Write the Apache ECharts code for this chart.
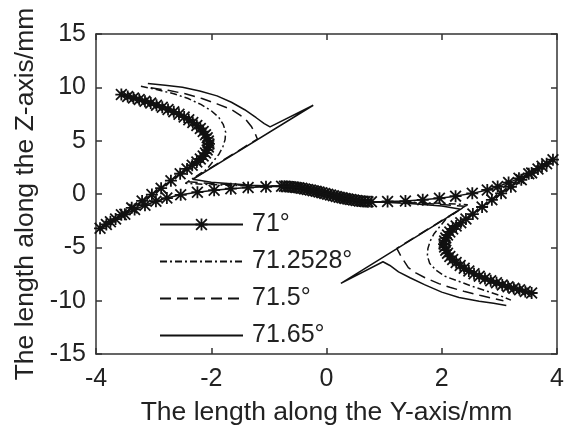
<!DOCTYPE html>
<html>
<head>
<meta charset="utf-8">
<script src="https://cdn.jsdelivr.net/npm/echarts@6/dist/echarts.min.js"></script>
<style>
  html, body { margin: 0; padding: 0; background: #fff; }
  #chart { width: 566px; height: 437px; }
</style>
</head>
<body>
<div id="chart"></div>
<script>
// curve names (legend)
var names = ['71°', '71.2528°', '71.5°', '71.65°'];

// 71° curve, [Y, Z] in mm, in drawing order
var curve71 = [
  [-3.56, 9.32], [-3.45, 9.15], [-3.35, 9.0], [-3.25, 8.85], [-3.15, 8.7], [-3.05, 8.52],
  [-2.95, 8.33], [-2.85, 8.14], [-2.75, 7.93], [-2.65, 7.7], [-2.56, 7.47], [-2.47, 7.22],
  [-2.39, 6.96], [-2.32, 6.7], [-2.25, 6.42], [-2.19, 6.14], [-2.14, 5.85], [-2.1, 5.56],
  [-2.07, 5.27], [-2.05, 4.98], [-2.04, 4.69], [-2.05, 4.4], [-2.07, 4.12], [-2.1, 3.84],
  [-2.14, 3.56], [-2.19, 3.28], [-2.25, 3.0], [-2.33, 2.7], [-2.42, 2.35], [-2.54, 1.9],
  [-2.7, 1.25], [-2.87, 0.55], [-3.03, -0.05], [-3.2, -0.65], [-3.38, -1.3], [-3.56, -1.95],
  [-3.75, -2.6], [-3.93, -3.22],
  [-3.82, -2.85], [-3.66, -2.35], [-3.5, -1.9], [-3.33, -1.45], [-3.15, -1.05], [-2.96, -0.68],
  [-2.77, -0.38], [-2.53, -0.08], [-2.24, 0.17], [-1.95, 0.36], [-1.66, 0.5], [-1.36, 0.6],
  [-1.05, 0.68], [-0.78, 0.72],
  [-0.73, 0.72], [-0.68, 0.71], [-0.63, 0.69], [-0.58, 0.66], [-0.53, 0.62], [-0.48, 0.58],
  [-0.43, 0.53], [-0.38, 0.48], [-0.33, 0.43], [-0.28, 0.37], [-0.23, 0.31], [-0.18, 0.25],
  [-0.13, 0.18], [-0.08, 0.11], [-0.03, 0.04], [0.02, -0.03], [0.07, -0.1], [0.12, -0.17],
  [0.17, -0.24], [0.22, -0.3], [0.27, -0.36], [0.32, -0.42], [0.37, -0.47], [0.42, -0.52],
  [0.47, -0.57], [0.52, -0.61], [0.57, -0.65], [0.62, -0.68], [0.67, -0.7], [0.72, -0.72],
  [0.78, -0.73], [1.06, -0.7], [1.37, -0.66], [1.67, -0.55], [1.96, -0.4], [2.24, -0.2],
  [2.53, 0.06], [2.79, 0.38], [2.97, 0.7], [3.16, 1.07], [3.34, 1.47], [3.51, 1.9],
  [3.67, 2.35], [3.82, 2.83], [3.93, 3.22],
  [3.74, 2.6], [3.56, 1.98], [3.38, 1.33], [3.2, 0.68], [3.03, 0.06], [2.87, -0.55],
  [2.7, -1.22], [2.54, -1.88], [2.42, -2.35], [2.33, -2.7], [2.25, -3.0], [2.19, -3.28],
  [2.14, -3.56], [2.1, -3.84], [2.07, -4.12], [2.05, -4.4], [2.04, -4.69], [2.05, -4.98],
  [2.07, -5.27], [2.1, -5.56], [2.14, -5.85], [2.19, -6.14], [2.25, -6.42], [2.32, -6.7],
  [2.39, -6.96], [2.47, -7.22], [2.56, -7.47], [2.65, -7.7], [2.75, -7.93], [2.85, -8.14],
  [2.95, -8.33], [3.05, -8.52], [3.15, -8.7], [3.25, -8.84], [3.35, -8.98], [3.45, -9.13],
  [3.56, -9.28]
];

// 71.2528° curve
var curve712528 = [
  [-3.22, 10.1], [-2.95, 9.8], [-2.65, 9.4], [-2.4, 8.95], [-2.18, 8.4], [-2.0, 7.8],
  [-1.87, 7.2], [-1.79, 6.5], [-1.75, 5.8], [-1.76, 5.1], [-1.8, 4.4], [-1.87, 3.7],
  [-1.96, 3.1], [-2.08, 2.3], [-2.45, 1.0], [-2.0, 0.88], [-1.5, 0.78], [-1.0, 0.72],
  [-0.73, 0.72], [-0.5, 0.6], [-0.25, 0.34], [0, 0], [0.25, -0.34], [0.5, -0.6],
  [0.73, -0.72], [1.0, -0.72], [1.5, -0.78], [2.0, -0.88], [2.45, -1.0], [2.08, -2.3],
  [1.96, -3.1], [1.87, -3.7], [1.8, -4.4], [1.76, -5.1], [1.75, -5.8], [1.79, -6.5],
  [1.9, -7.15], [2.05, -7.7], [2.25, -8.1], [2.5, -8.6], [2.75, -9.05], [3.0, -9.5],
  [3.2, -9.95]
];

// 71.5° curve
var curve715 = [
  [-3.05, 9.95], [-2.75, 9.72], [-2.45, 9.4], [-2.16, 8.95], [-1.9, 8.45], [-1.66, 7.95],
  [-1.5, 7.4], [-1.38, 6.85], [-1.3, 6.3], [-1.24, 5.7], [-1.2, 5.15], [-2.4, 1.15],
  [-2.0, 0.98], [-1.6, 0.85], [-1.2, 0.76], [-0.73, 0.72], [-0.5, 0.6], [-0.25, 0.34],
  [0, 0], [0.25, -0.34], [0.5, -0.6], [0.73, -0.72], [1.2, -0.76], [1.6, -0.85],
  [2.0, -0.98], [2.4, -1.15], [1.22, -5.1], [1.3, -5.9], [1.42, -6.9], [1.55, -7.4],
  [1.71, -7.85], [1.95, -8.4], [2.14, -8.75], [2.4, -9.15], [2.66, -9.5], [2.9, -9.8],
  [3.07, -10.0]
];

// 71.65° curve
var curve7165 = [
  [-3.1, 10.35], [-2.8, 10.2], [-2.5, 10.0], [-2.2, 9.65], [-1.9, 9.2], [-1.65, 8.6],
  [-1.42, 7.9], [-1.22, 7.15], [-1.08, 6.6], [-0.98, 6.3], [-0.23, 8.32], [-2.32, 1.38],
  [-2.0, 1.1], [-1.65, 0.95], [-1.3, 0.82], [-1.0, 0.75], [-0.73, 0.72], [-0.5, 0.6],
  [-0.25, 0.34], [0, 0], [0.25, -0.34], [0.5, -0.6], [0.73, -0.72], [1.0, -0.78],
  [1.5, -0.92], [2.0, -1.12], [2.33, -1.42], [0.25, -8.38], [0.98, -6.35], [1.1, -6.7],
  [1.25, -7.3], [1.45, -7.85], [1.7, -8.5], [2.0, -9.2], [2.3, -9.7], [2.65, -10.05],
  [2.9, -10.25], [3.12, -10.45]
];

var font = "'Liberation Sans', Arial, sans-serif";
// asterisk marker: + and x overlaid
var star = 'path://M4.25,0H5.75V10H4.25ZM0,4.25H10V5.75H0ZM1.05,0L10,8.95L8.95,10L0,1.05ZM8.95,0L10,1.05L1.05,10L0,8.95Z';
var axisColor = '#333';

function boxAxis(pos, min, max, step) {
    return {
        type: 'value', position: pos, min: min, max: max, interval: step,
        axisLine: { show: true, onZero: false, lineStyle: { color: axisColor, width: 1.5 } },
        axisTick: { show: true, inside: true, length: 6, lineStyle: { color: axisColor, width: 1.5 } },
        axisLabel: { show: false },
        splitLine: { show: false }
    };
}

var xMain = boxAxis('bottom', -4, 4, 2);
xMain.axisLabel = { show: true, fontSize: 25, color: '#222', fontFamily: font, margin: 13 };
xMain.name = 'The length along the Y-axis/mm';
xMain.nameLocation = 'middle';
xMain.nameGap = 45;
xMain.nameTextStyle = { fontSize: 26.5, color: '#222', fontFamily: font };

var yMain = boxAxis('left', -15, 15, 5);
yMain.axisLabel = { show: true, fontSize: 25, color: '#222', fontFamily: font, margin: 10 };
yMain.name = 'The length along the Z-axis/mm';
yMain.nameLocation = 'middle';
yMain.nameGap = 51;
yMain.nameTextStyle = { fontSize: 26.5, color: '#222', fontFamily: font };

function lineSeries(name, data, dash, z) {
    return {
        name: name, type: 'line', data: data, z: z,
        symbol: 'none', showSymbol: false,
        lineStyle: { color: '#111', width: 1.5, type: dash },
        itemStyle: { color: '#111' },
        animation: false
    };
}

var s71 = lineSeries(names[0], curve71, 'solid', 2);
s71.symbol = star;
s71.symbolSize = 12;
s71.showSymbol = true;
s71.showAllSymbol = true;

// legend entries: only the 71° curve shows its marker
var legendData = names.map(function (n, i) {
    return i === 0 ? { name: n } : { name: n, itemStyle: { opacity: 0 } };
});

var option = {
    backgroundColor: '#fff',
    animation: false,
    grid: { left: 96, top: 34, right: 9, bottom: 83, outerBoundsMode: 'none' },
    xAxis: [xMain, boxAxis('top', -4, 4, 2)],
    yAxis: [yMain, boxAxis('right', -15, 15, 5)],
    legend: {
        data: legendData,
        orient: 'vertical',
        left: 159, top: 212,
        padding: 0,
        itemWidth: 83, itemHeight: 15, itemGap: 12,
        textStyle: { fontSize: 25, color: '#222', fontFamily: font, padding: [0, 0, 0, 4] }
    },
    series: [
        s71,
        lineSeries(names[1], curve712528, [7, 3, 2, 3], 3),
        lineSeries(names[2], curve715, [11, 6], 3),
        lineSeries(names[3], curve7165, 'solid', 3)
    ]
};

var chart = echarts.init(document.getElementById('chart'));
chart.setOption(option);
</script>
</body>
</html>
